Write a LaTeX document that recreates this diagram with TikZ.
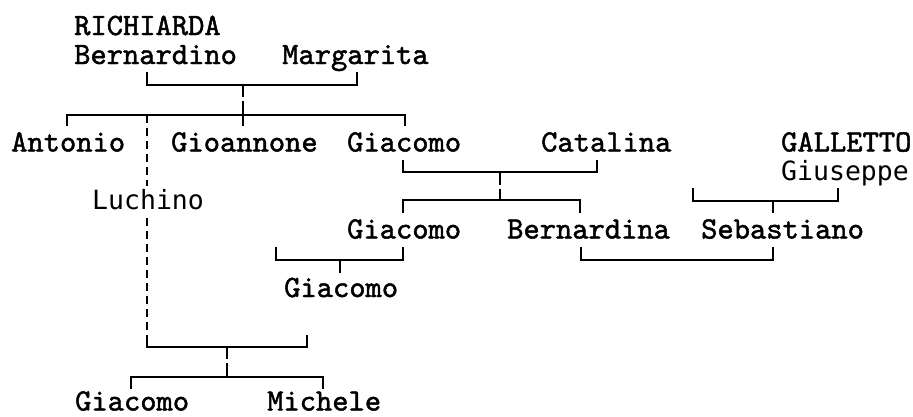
\documentclass[tikz,border=0pt]{standalone}
\usepackage{fontspec}
\newfontfamily\lmm{lmmono10-regular.otf}[FakeBold=1.5]
\newfontfamily\dvsm{DejaVu Sans Mono}
\tikzset{
  person/.style={font=\lmm\fontsize{31}{31}\selectfont, anchor=base west, inner sep=0pt},
  sperson/.style={font=\dvsm\fontsize{26.5}{26.5}\selectfont, anchor=base west, inner sep=0pt},
  link/.style={line width=1.8pt, black},
  dlink/.style={line width=1.8pt, black, dash pattern=on 8pt off 5pt}
}
\begin{document}
\begin{tikzpicture}[x=1pt,y=-1pt]
\fill[white] (0,0) rectangle (913,416);
\useasboundingbox (0,0) rectangle (913,416);
% people
\node[person] (rich) at (74,35) {RICHIARDA};
\node[person] (bern) at (74,64) {Bernardino};
\node[person] (marg) at (282,64) {Margarita};
\node[person] (anto) at (11,151.5) {Antonio};
\node[person] (gioa) at (171,151.5) {Gioannone};
\node[person] (giac1) at (347,151.5) {Giacomo};
\node[person] (cata) at (541,151.5) {Catalina};
\node[person] (gall) at (781,151.5) {GALLETTO};
\node[sperson] (gius) at (781,180.5) {Giuseppe};
\node[sperson] (luch) at (92,209) {Luchino};
\node[person] (giac2) at (347,238.5) {Giacomo};
\node[person] (bernda) at (507,238.5) {Bernardina};
\node[person] (seba) at (701,238.5) {Sebastiano};
\node[person] (giac3) at (284,297) {Giacomo};
\node[person, text depth=0pt] (giac4) at (75,410.5) {Giacomo};
\node[person, text depth=0pt] (mich) at (267,410.5) {Michele};
% coordinates of brackets
\coordinate (bm1) at (147,72);  \coordinate (bm2) at (357,72);
\coordinate (bmh) at (357,85);  \coordinate (bmt) at (243,85);
\coordinate (bmg) at (243,97);  \coordinate (bmg2) at (243,101);
\coordinate (ch1) at (67,126);  \coordinate (ch2) at (405,126);
\coordinate (chh) at (405,115); \coordinate (chm) at (243,126);
\coordinate (lu1) at (147,115); \coordinate (lu2) at (147,186);
\coordinate (lu3) at (147,218); \coordinate (lu4) at (147,336);
\coordinate (lu5) at (147,347); \coordinate (lu6) at (307,335);
\coordinate (lut) at (227,347); \coordinate (lug) at (227,359);
\coordinate (lug2) at (227,363); \coordinate (luc) at (227,377);
\coordinate (lc1) at (131,389); \coordinate (lc2) at (323,389);
\coordinate (gc1) at (403,160); \coordinate (gc2) at (597,160);
\coordinate (gch) at (597,172); \coordinate (gct) at (500,172);
\coordinate (gcg) at (500,185); \coordinate (gcg2) at (500,189);
\coordinate (gcc) at (500,200);
\coordinate (gk1) at (403,213); \coordinate (gk2) at (580,213);
\coordinate (gkh) at (580,200);
\coordinate (gs1) at (693,188); \coordinate (gs2) at (838,188);
\coordinate (gsh) at (838,201); \coordinate (gst) at (773,201);
\coordinate (gsb) at (773,213);
\coordinate (bs1) at (581,247); \coordinate (bs2) at (773,247);
\coordinate (bsh) at (773,260);
\coordinate (gg1) at (276,247); \coordinate (gg2) at (403,247);
\coordinate (ggh) at (403,260); \coordinate (ggt) at (340,260);
\coordinate (ggb) at (340,273);
% Bernardino x Margarita
\draw[link] (bm1) |- (bmh) -- (bm2);
\draw[link] (bmt) -- (bmg);
\draw[link] (bmg2) -- (chm);
\draw[link] (ch1) |- (chh) -- (ch2);
% Luchino line
\draw[dlink] (lu1) -- (lu2);
\draw[dlink] (lu3) -- (lu4);
\draw[link] (lu4) -- (lu5) -| (lu6);
\draw[link] (lut) -- (lug);
\draw[link] (lug2) -- (luc);
\draw[link] (lc1) |- (luc) -| (lc2);
% Giacomo x Catalina
\draw[link] (gc1) |- (gch) -- (gc2);
\draw[link] (gct) -- (gcg);
\draw[link] (gcg2) -- (gcc);
\draw[link] (gk1) |- (gkh) -- (gk2);
% Giuseppe
\draw[link] (gs1) |- (gsh) -- (gs2);
\draw[link] (gst) -- (gsb);
% Bernardina x Sebastiano
\draw[link] (bs1) |- (bsh) -- (bs2);
% Giacomo -> Giacomo
\draw[link] (gg1) |- (ggh) -- (gg2);
\draw[link] (ggt) -- (ggb);
\end{tikzpicture}
\end{document}
